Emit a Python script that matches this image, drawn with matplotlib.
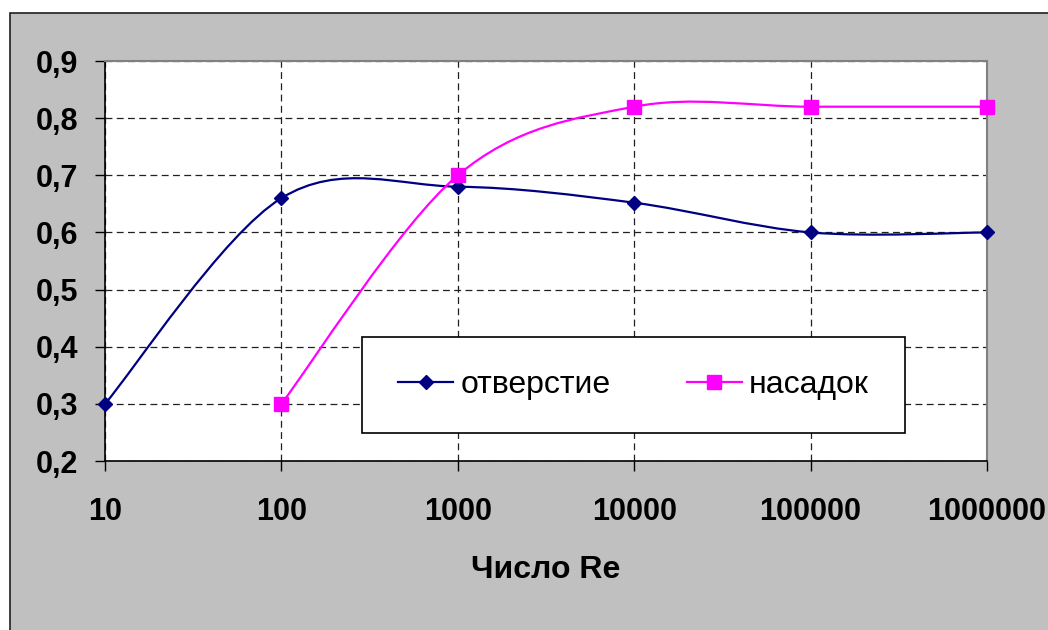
import matplotlib
matplotlib.use("Agg")
import matplotlib.pyplot as plt
from matplotlib.path import Path
from matplotlib.patches import PathPatch, Rectangle
from matplotlib.lines import Line2D
import numpy as np

plt.rcParams['font.family'] = ['Liberation Sans', 'DejaVu Sans']

categories = ["10", "100", "1000", "10000", "100000", "1000000"]
otv_x = [0, 1, 2, 3, 4, 5]
otv_y = [0.30, 0.66, 0.68, 0.652, 0.60, 0.60]
nas_x = [1, 2, 3, 4, 5]
nas_y = [0.30, 0.70, 0.82, 0.82, 0.82]
yticks = [0.2, 0.3, 0.4, 0.5, 0.6, 0.7, 0.8, 0.9]
ylabels = ["0,2", "0,3", "0,4", "0,5", "0,6", "0,7", "0,8", "0,9"]


def smooth_path(xs, ys):
    P = np.column_stack([xs, ys]).astype(float)
    n = len(P)
    verts = [P[0]]
    codes = [Path.MOVETO]
    for i in range(n - 1):
        p0 = P[i - 1] if i > 0 else P[i]
        p1 = P[i]
        p2 = P[i + 1]
        p3 = P[i + 2] if i + 2 < n else P[i + 1]
        c1 = p1 + (p2 - p0) / 6.0
        c2 = p2 - (p3 - p1) / 6.0
        verts += [c1, c2, p2]
        codes += [Path.CURVE4] * 3
    return Path(verts, codes)


W, H = 1048, 630
fig = plt.figure(figsize=(W / 100, H / 100), dpi=100, facecolor='white')
# grey chart area
bg = Rectangle((10 / W, -0.01), 1.0, (H - 13) / H + 0.01,
               transform=fig.transFigure, facecolor='#C0C0C0',
               edgecolor='#202020', linewidth=1.2, zorder=-10)
fig.patches.append(bg)

ax = fig.add_axes([105 / W, (H - 461) / H, (987 - 105) / W, (461 - 61) / H])
ax.set_zorder(1)
ax.set_facecolor('white')
ax.set_xlim(0, 5)
ax.set_ylim(0.2, 0.9)

for s in ['top', 'right']:
    ax.spines[s].set_color('#808080')
    ax.spines[s].set_linewidth(1.5)
for s in ['left', 'bottom']:
    ax.spines[s].set_color('black')
    ax.spines[s].set_linewidth(1.2)

ax.set_yticks(yticks)
ax.set_yticklabels(ylabels)
ax.set_xticks(otv_x)
ax.set_xticklabels(categories)
ax.tick_params(axis='both', direction='out', length=7, width=1, color='black',
               labelsize=22)
ax.tick_params(axis='y', pad=12)
ax.tick_params(axis='x', pad=19)
for lab in ax.get_xticklabels() + ax.get_yticklabels():
    lab.set_fontweight('bold')

ax.grid(True, color='#202020', linestyle=(0, (5.5, 3.5)), linewidth=0.9)
ax.set_axisbelow(True)

ax.set_xlabel("Число Re", fontsize=23, fontweight='bold', labelpad=20)

navy = '#000080'
mag = '#FF00FF'
ax.add_patch(PathPatch(smooth_path(otv_x, otv_y), fill=False, edgecolor=navy,
                       linewidth=1.6, zorder=3))
ax.add_patch(PathPatch(smooth_path(nas_x, nas_y), fill=False, edgecolor=mag,
                       linewidth=1.6, zorder=3))
ax.plot(otv_x, otv_y, linestyle='none', marker='D', markersize=7,
        color=navy, zorder=4, clip_on=False)
ax.plot(nas_x, nas_y, linestyle='none', marker='s', markersize=10,
        color=mag, zorder=4, clip_on=False)

# legend box
lx0 = (362 - 105) / 882
lx1 = (905 - 105) / 882
ly0 = (461 - 433) / 400
ly1 = (461 - 337) / 400
ax.add_patch(Rectangle((lx0, ly0), lx1 - lx0, ly1 - ly0, transform=ax.transAxes,
                       facecolor='white', edgecolor='black', linewidth=1.2,
                       zorder=5))
handles = [Line2D([], [], color=navy, linewidth=1.6, marker='D', markersize=7),
           Line2D([], [], color=mag, linewidth=1.6, marker='s', markersize=10)]
leg = ax.legend(handles, ["отверстие", "насадок"], ncol=2, frameon=False,
                loc='center', bbox_to_anchor=((lx0 + lx1) / 2, (ly0 + ly1) / 2),
                fontsize=23, handlelength=1.72, handletextpad=0.22,
                columnspacing=2.4)
leg.set_zorder(6)

fig.savefig("out.png", dpi=100, facecolor=fig.get_facecolor())
